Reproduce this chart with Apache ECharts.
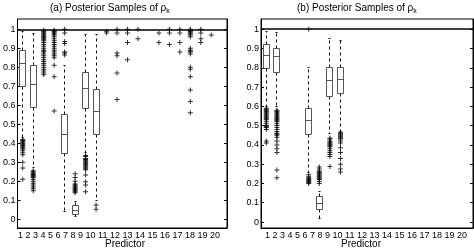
<!DOCTYPE html>
<html>
<head>
<meta charset="utf-8">
<script src="https://cdn.jsdelivr.net/npm/echarts@6/dist/echarts.min.js"></script>
<style>
html,body{margin:0;padding:0;background:#fff;}
#chart{width:474px;height:249px;}
</style>
</head>
<body>
<div id="chart"></div>
<script>
// ---- data ----
const predictors = [1,2,3,4,5,6,7,8,9,10,11,12,13,14,15,16,17,18,19,20];
const yTicks = [0,0.1,0.2,0.3,0.4,0.5,0.6,0.7,0.8,0.9,1];
const titleA = '(a) Posterior Samples of ρ';
const titleB = '(b) Posterior Samples of ρ';
const subscript = 'k';
const xName = 'Predictor';

// [lower whisker, q1, median, q3, upper whisker]
const boxA = [
  [0.43, 0.70, 0.82, 0.89, 0.99],
  [0.27, 0.59, 0.71, 0.81, 0.98],
  [1,1,1,1,1],
  [1,1,1,1,1],
  [0.04, 0.347, 0.445, 0.553, 0.81],
  [0.014, 0.025, 0.048, 0.07, 0.093],
  [0.35, 0.584, 0.69, 0.774, 0.97],
  [0.10, 0.444, 0.566, 0.684, 0.97],
  [1,1,1,1,1],[1,1,1,1,1],[1,1,1,1,1],[1,1,1,1,1],[1,1,1,1,1],[1,1,1,1,1],
  [1,1,1,1,1],[1,1,1,1,1],[1,1,1,1,1],[1,1,1,1,1],[1,1,1,1,1],[1,1,1,1,1]
];
const outliersA = [
  [0.42,0.415,0.41,0.405,0.40,0.395,0.39,0.385,0.38,0.375,0.37,0.36,0.35,0.34,0.30,0.27,0.21],
  [0.255,0.25,0.245,0.24,0.235,0.23,0.225,0.22,0.21,0.20,0.19,0.18,0.17,0.16,0.15],
  [0.995,0.99,0.985,0.98,0.975,0.97,0.965,0.96,0.955,0.95,0.945,0.94,0.93,0.92,0.91,0.90,0.89,0.885,0.88,0.87,0.86,0.85,0.84,0.83,0.82,0.81,0.80,0.79,0.78,0.77,0.76],
  [0.995,0.99,0.985,0.98,0.975,0.97,0.96,0.95,0.94,0.93,0.92,0.91,0.90,0.89,0.88,0.87,0.86,0.85,0.81,0.75,0.57],
  [1.0,0.98,0.935,0.925,0.88,0.875,0.865],
  [0.24,0.22,0.20,0.185,0.18,0.175,0.17,0.165,0.16,0.155,0.15,0.145,0.14],
  [0.335,0.33,0.32,0.315,0.31,0.305,0.30,0.295,0.29,0.285,0.28,0.275,0.27,0.265,0.26,0.233,0.198,0.18,0.145],
  [0.075,0.053],
  [0.99,0.98],
  [1.0,0.98,0.875,0.86,0.77,0.63],
  [1.0,0.98,0.93,0.84],
  [1.0,0.95],
  [],
  [0.98,0.93],
  [1.0,0.98,0.92],
  [1.0,0.98,0.93,0.88],
  [1.0,0.995,0.99,0.985,0.98,0.975,0.97,0.96,0.90,0.89,0.885,0.88,0.87,0.80,0.79,0.75,0.68,0.62,0.56],
  [1.0,0.98,0.95,0.93],
  [0.97],
  []
];

const boxB = [
  [0.60, 0.794, 0.862, 0.922, 0.99],
  [0.60, 0.775, 0.858, 0.90, 0.985],
  [1,1,1,1,1],
  [1,1,1,1,1],
  [0.255, 0.452, 0.526, 0.59, 0.80],
  [0.02, 0.067, 0.098, 0.13, 0.158],
  [0.46, 0.65, 0.732, 0.80, 0.95],
  [0.47, 0.668, 0.737, 0.80, 0.94],
  [1,1,1,1,1],[1,1,1,1,1],[1,1,1,1,1],[1,1,1,1,1],[1,1,1,1,1],[1,1,1,1,1],
  [1,1,1,1,1],[1,1,1,1,1],[1,1,1,1,1],[1,1,1,1,1],[1,1,1,1,1],[1,1,1,1,1]
];
const outliersB = [
  [0.59,0.585,0.58,0.575,0.57,0.565,0.56,0.555,0.55,0.545,0.54,0.535,0.53,0.52,0.51,0.50,0.495,0.49,0.48,0.42,0.41],
  [0.58,0.575,0.57,0.565,0.56,0.555,0.55,0.545,0.54,0.535,0.53,0.525,0.52,0.51,0.50,0.49,0.48,0.47,0.46,0.455,0.45,0.44,0.42,0.40,0.38,0.36,0.27,0.23],
  [],
  [],
  [1.0,0.245,0.235,0.23,0.225,0.22,0.215,0.21,0.205,0.20],
  [0.285,0.275,0.265,0.26,0.255,0.25,0.245,0.24,0.235,0.23,0.225,0.22,0.21,0.20],
  [0.435,0.43,0.42,0.415,0.41,0.405,0.40,0.395,0.39,0.38,0.37,0.36,0.35,0.34,0.288],
  [0.465,0.46,0.455,0.45,0.445,0.44,0.435,0.43,0.42,0.41,0.385,0.36,0.33,0.30,0.275,0.26],
  [],[],[],[],[],[],[],[],[],[],[],[]
];

// ---- chart ----
const FONT = '"Liberation Sans", Arial, Helvetica, sans-serif';
const PLUS = 'path://M4,0h2v4h4v2h-4v4h-2v-4h-4v-2h4z';

function toPoints(outs) {
  const pts = [];
  outs.forEach((arr, i) => arr.forEach(v => pts.push([predictors[i], v])));
  return pts;
}
function toBoxes(boxes) {
  return boxes.map((b, i) => [predictors[i]].concat(b));
}
function crisp(v) { return Math.round(v - 0.5) + 0.5; }

function renderBox(params, api) {
  const x = api.value(0);
  const lo = api.value(1), q1 = api.value(2), md = api.value(3), q3 = api.value(4), hi = api.value(5);
  if (lo === 1 && hi === 1) return null;
  const w = api.size([0.54, 0])[0];
  const cx = crisp(api.coord([x, md])[0]);
  const yLo = crisp(api.coord([x, lo])[1]);
  const yQ1 = crisp(api.coord([x, q1])[1]);
  const yMd = crisp(api.coord([x, md])[1]);
  const yQ3 = crisp(api.coord([x, q3])[1]);
  const yHi = crisp(api.coord([x, hi])[1]);
  const hw = Math.round(w / 2);
  const cw = Math.round(w / 4);
  const boxStroke = '#555';
  const wStyle = { stroke: '#111', lineWidth: 1, lineDash: [3, 3] };
  return {
    type: 'group',
    children: [
      { type: 'line', shape: { x1: cx, y1: yQ3, x2: cx, y2: yHi }, style: wStyle },
      { type: 'line', shape: { x1: cx, y1: yQ1, x2: cx, y2: yLo }, style: wStyle },
      { type: 'line', shape: { x1: cx - cw, y1: yHi, x2: cx + cw, y2: yHi }, style: { stroke: '#111', lineWidth: 1 } },
      { type: 'line', shape: { x1: cx - cw, y1: yLo, x2: cx + cw, y2: yLo }, style: { stroke: '#111', lineWidth: 1 } },
      { type: 'rect', shape: { x: cx - hw, y: yQ3, width: 2 * hw, height: yQ1 - yQ3 }, style: { fill: '#fff', stroke: boxStroke, lineWidth: 1 } },
      { type: 'line', shape: { x1: cx - hw, y1: yMd, x2: cx + hw, y2: yMd }, style: { stroke: boxStroke, lineWidth: 1 } }
    ]
  };
}

function yAxes(gi, min, max) {
  const common = {
    gridIndex: gi, type: 'value', min: min, max: max,
    splitLine: { show: false },
    axisLine: { show: true, lineStyle: { color: '#000', width: 1 } }
  };
  return [
    Object.assign({}, common, {
      position: 'left',
      axisTick: { show: true, inside: true, length: 3, customValues: yTicks, lineStyle: { color: '#000' } },
      axisLabel: { show: true, customValues: yTicks, margin: 2, fontSize: 9, color: '#000', fontFamily: FONT,
        formatter: v => String(Math.round(v * 10) / 10) }
    }),
    Object.assign({}, common, {
      position: 'right',
      axisTick: { show: true, inside: true, length: 3, customValues: yTicks, lineStyle: { color: '#000' } },
      axisLabel: { show: false }
    })
  ];
}
function xAxis(gi) {
  return {
    gridIndex: gi, type: 'value', min: 0.5, max: 20.5,
    splitLine: { show: false },
    axisLine: { show: true, onZero: false, lineStyle: { color: '#000', width: 1 } },
    axisTick: { show: false }, axisLabel: { show: false }
  };
}

const tickString = predictors.join(' ');

function titleText(x, text) {
  return {
    type: 'text', left: x, top: 1,
    style: {
      text: '{m|' + text + '}{s|' + subscript + '}',
      fill: '#000', font: '10px ' + FONT,
      rich: {
        m: { fontSize: 10, fontFamily: FONT, fill: '#000', lineHeight: 12 },
        s: { fontSize: 7, fontFamily: FONT, fill: '#000', padding: [7, 0, 0, 0], lineHeight: 12 }
      }
    }
  };
}

const chart = echarts.init(document.getElementById('chart'), null, { renderer: 'canvas' });
chart.setOption({
  animation: false,
  backgroundColor: '#fff',
  grid: [
    { left: 13, top: 19, width: 214, height: 209, show: true, borderColor: '#000', borderWidth: 1, backgroundColor: 'transparent' },
    { left: 261, top: 19, width: 212, height: 209, show: true, borderColor: '#000', borderWidth: 1, backgroundColor: 'transparent' }
  ],
  xAxis: [xAxis(0), xAxis(1)],
  yAxis: yAxes(0, -0.046, 1.054).concat(yAxes(1, -0.031, 1.053)),
  series: [
    { type: 'custom', xAxisIndex: 0, yAxisIndex: 0, renderItem: renderBox, data: toBoxes(boxA),
      encode: { x: 0, y: [1, 2, 3, 4, 5] }, silent: true, z: 2 },
    { type: 'scatter', xAxisIndex: 0, yAxisIndex: 0, data: toPoints(outliersA), symbol: PLUS, symbolSize: 5,
      itemStyle: { color: '#000' }, silent: true, z: 3,
      markLine: { silent: true, symbol: 'none', label: { show: false }, lineStyle: { color: '#000', width: 1.5, type: 'solid' }, data: [{ yAxis: 1 }] } },
    { type: 'custom', xAxisIndex: 1, yAxisIndex: 2, renderItem: renderBox, data: toBoxes(boxB),
      encode: { x: 0, y: [1, 2, 3, 4, 5] }, silent: true, z: 2 },
    { type: 'scatter', xAxisIndex: 1, yAxisIndex: 2, data: toPoints(outliersB), symbol: PLUS, symbolSize: 5,
      itemStyle: { color: '#000' }, silent: true, z: 3,
      markLine: { silent: true, symbol: 'none', label: { show: false }, lineStyle: { color: '#000', width: 1.5, type: 'solid' }, data: [{ yAxis: 1 }] } }
  ],
  graphic: [
    titleText(50, titleA),
    titleText(297, titleB),
    { type: 'text', x: 119, y: 236, style: { text: tickString, font: '9px ' + FONT, fill: '#000', align: 'center', verticalAlign: 'middle' } },
    { type: 'text', x: 366, y: 236, style: { text: tickString, font: '9px ' + FONT, fill: '#000', align: 'center', verticalAlign: 'middle' } },
    { type: 'text', x: 125, y: 244, style: { text: xName, font: '10px ' + FONT, fill: '#000', align: 'center', verticalAlign: 'middle' } },
    { type: 'text', x: 361, y: 244, style: { text: xName, font: '10px ' + FONT, fill: '#000', align: 'center', verticalAlign: 'middle' } }
  ]
});
</script>
</body>
</html>
